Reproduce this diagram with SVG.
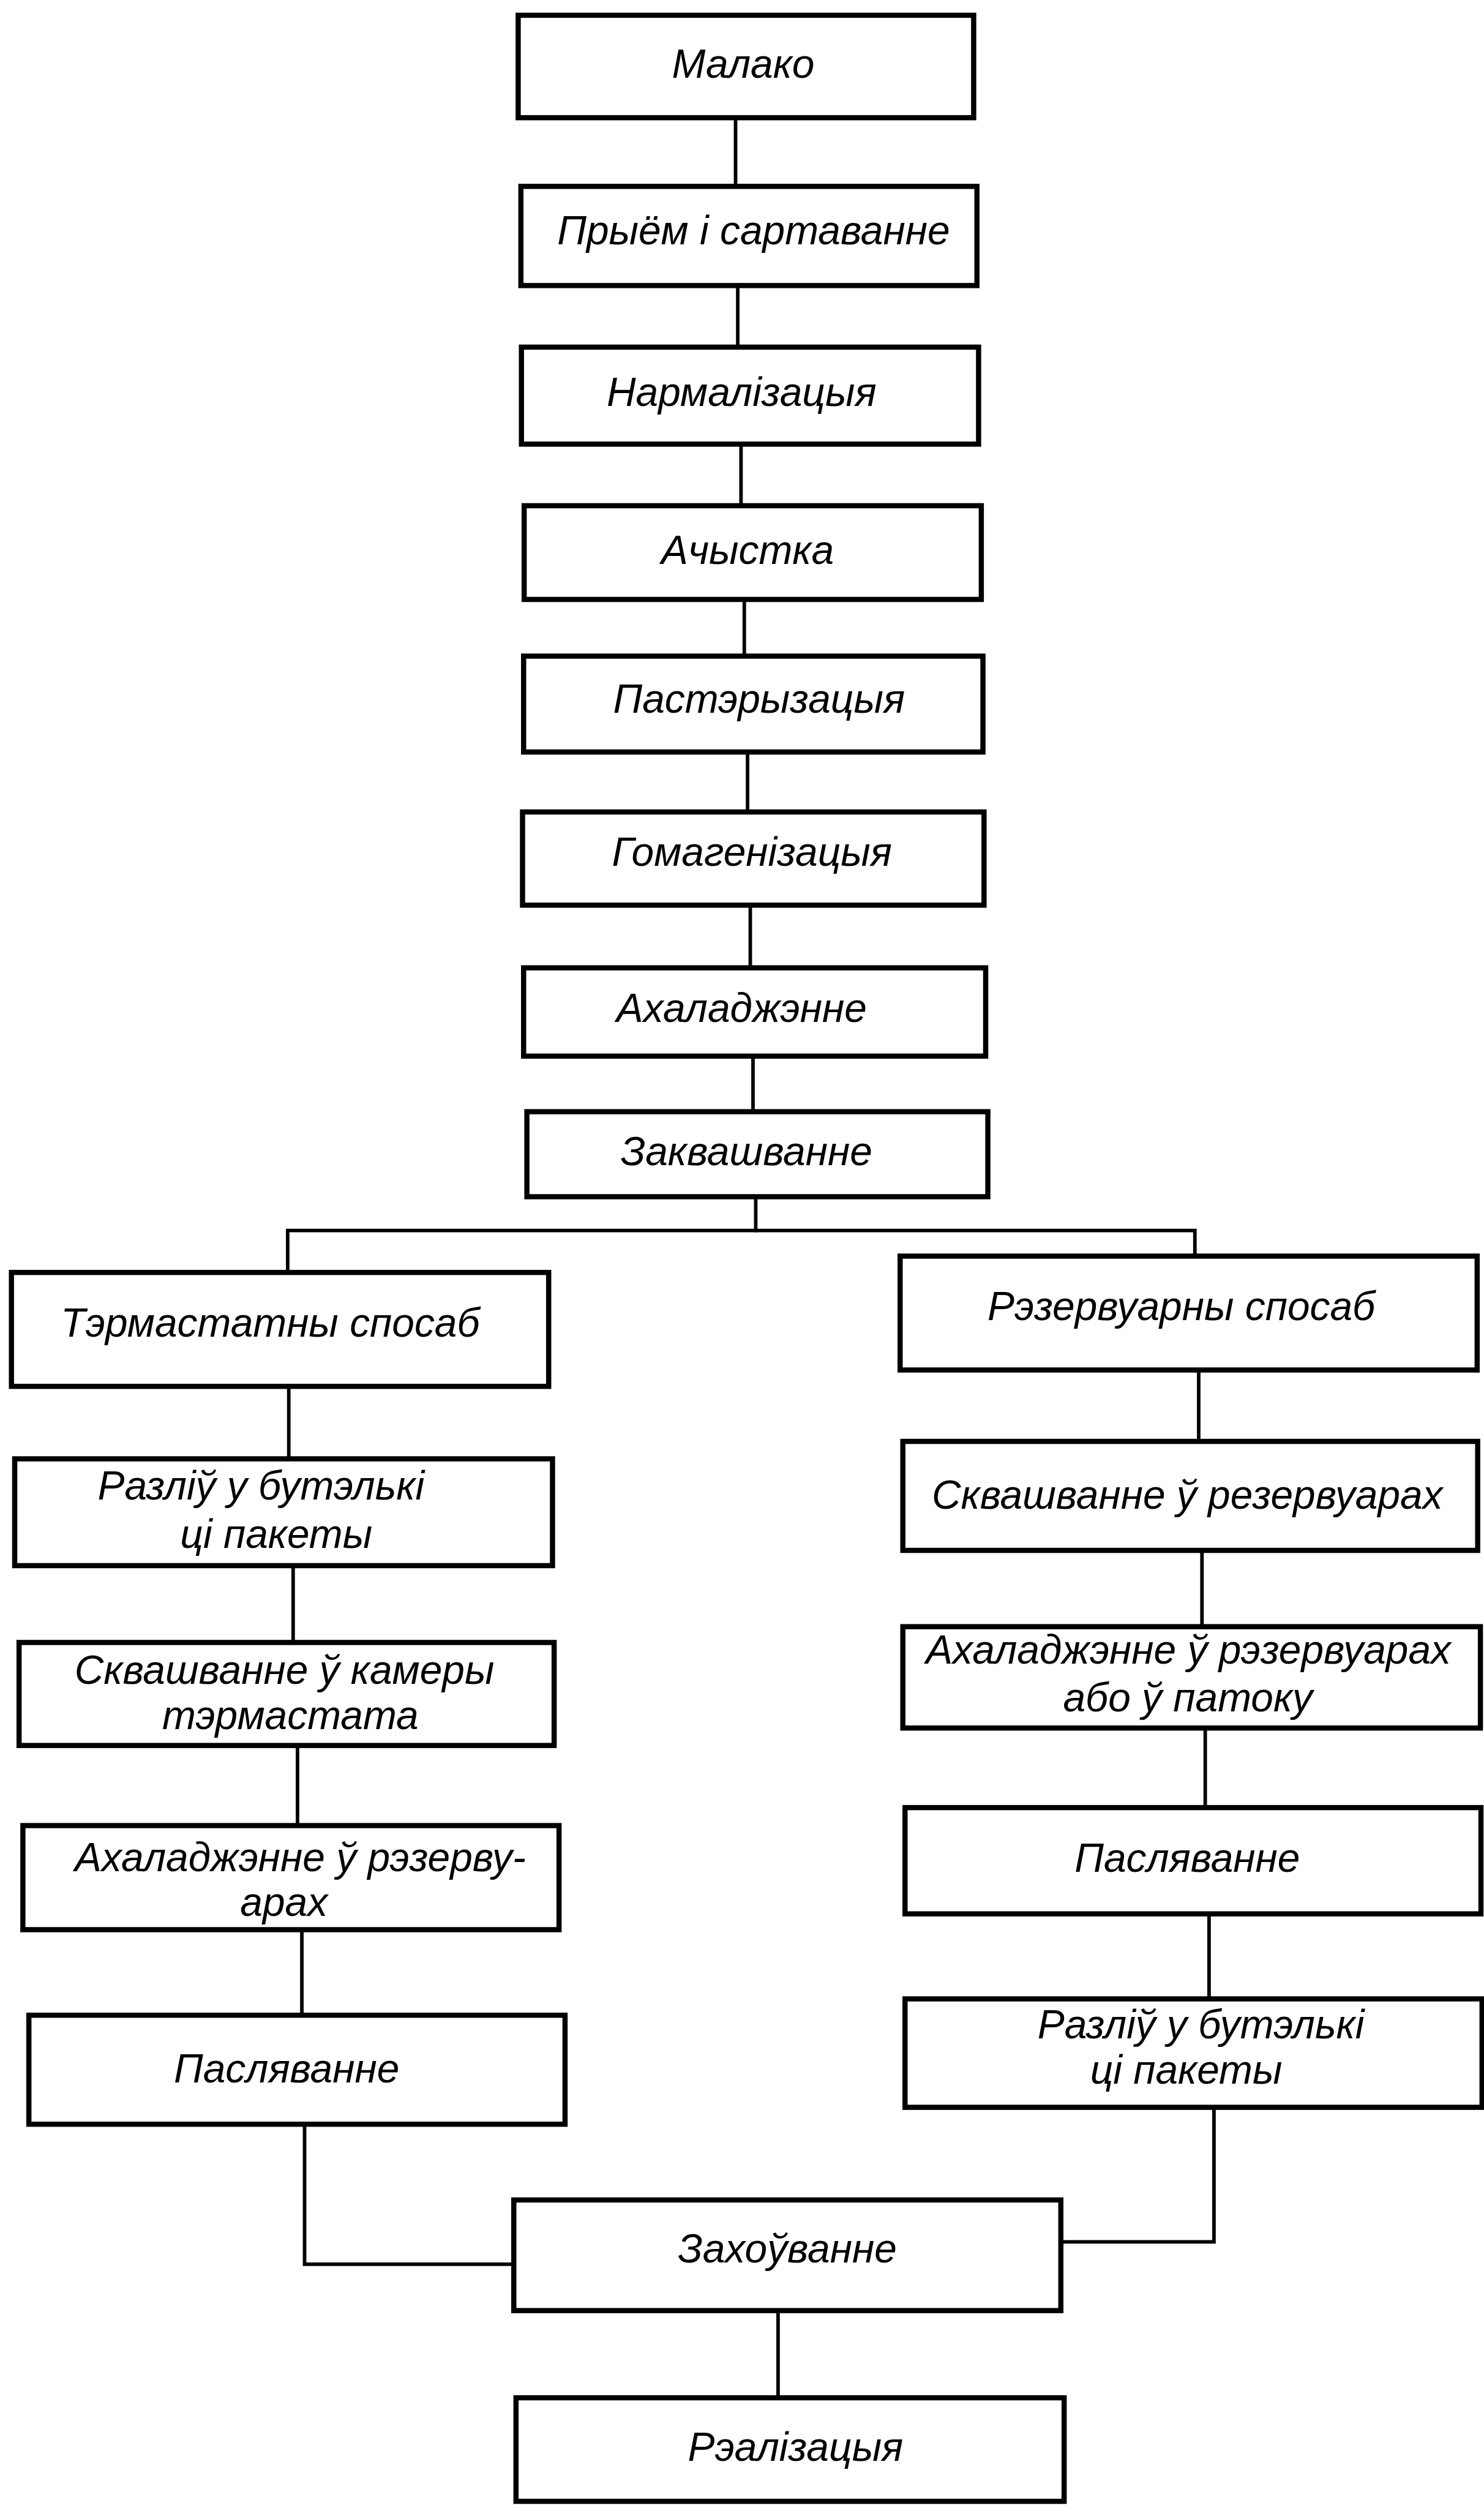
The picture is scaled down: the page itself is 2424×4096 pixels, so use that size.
<svg xmlns="http://www.w3.org/2000/svg" width="2424" height="4096" viewBox="0 0 2424 4096">
<style>
.box{fill:#fff;stroke:#000;stroke-width:9.5}
.lbl{font-family:"Liberation Sans",Arial,sans-serif;font-style:italic;font-size:74px;fill:#000;text-anchor:middle}
.conn{fill:none;stroke:#000;stroke-width:6.5;stroke-linejoin:miter;stroke-linecap:square}
</style>
<rect width="2424" height="4096" fill="#fff"/>
<g transform="scale(0.89)">
<g id="connectors">
<path class="conn" d="M1350 216 V342"/>
<path class="conn" d="M1354 524 V637"/>
<path class="conn" d="M1360 815 V928"/>
<path class="conn" d="M1366 1100 V1204"/>
<path class="conn" d="M1372 1380 V1490"/>
<path class="conn" d="M1377 1661 V1776"/>
<path class="conn" d="M1382 1938 V2040"/>
<path class="conn" d="M1387 2196 V2258"/>
<path class="conn" d="M528 2335 V2258 H2193 V2305"/>
<path class="conn" d="M530 2544 V2677"/>
<path class="conn" d="M538 2873 V3014"/>
<path class="conn" d="M546 3203 V3350"/>
<path class="conn" d="M554 3541 V3698"/>
<path class="conn" d="M559 3898 V4155 H943"/>
<path class="conn" d="M2200 2514 V2645"/>
<path class="conn" d="M2206 2845 V2985"/>
<path class="conn" d="M2212 3171 V3317"/>
<path class="conn" d="M2219 3512 V3668"/>
<path class="conn" d="M2228 3867 V4114 H1947"/>
<path class="conn" d="M1428 4240 V4400"/>
</g>
<g id="n-malako"><rect class="box" x="951" y="28" width="836" height="188"/><text class="lbl" x="1364" y="143">Малако</text></g>
<g id="n-pryjom"><rect class="box" x="956" y="342" width="837" height="182"/><text class="lbl" x="1383" y="448">Прыём і сартаванне</text></g>
<g id="n-narmalizacyja"><rect class="box" x="957" y="637" width="839" height="178"/><text class="lbl" x="1361" y="745">Нармалізацыя</text></g>
<g id="n-achystka"><rect class="box" x="962" y="928" width="839" height="172"/><text class="lbl" x="1372" y="1035">Ачыстка</text></g>
<g id="n-pasteryzacyja"><rect class="box" x="961" y="1204" width="843" height="176"/><text class="lbl" x="1393" y="1308">Пастэрызацыя</text></g>
<g id="n-gomagenizacyja"><rect class="box" x="959" y="1490" width="847" height="171"/><text class="lbl" x="1380" y="1589">Гомагенізацыя</text></g>
<g id="n-ahaladzhenne"><rect class="box" x="961" y="1776" width="848" height="162"/><text class="lbl" x="1361" y="1875">Ахаладжэнне</text></g>
<g id="n-zakvashvanne"><rect class="box" x="967" y="2040" width="846" height="156"/><text class="lbl" x="1370" y="2138">Заквашванне</text></g>
<g id="n-termastatny"><rect class="box" x="21" y="2335" width="986" height="209"/><text class="lbl" x="496" y="2453">Тэрмастатны спосаб</text></g>
<g id="n-razliu-l"><rect class="box" x="27" y="2677" width="987" height="196"/><text class="lbl" x="479" y="2752">Разліў у бутэлькі</text><text class="lbl" x="507" y="2840">ці пакеты</text></g>
<g id="n-skvash-kamery"><rect class="box" x="35" y="3014" width="982" height="189"/><text class="lbl" x="522" y="3090">Сквашванне ў камеры</text><text class="lbl" x="533" y="3173">тэрмастата</text></g>
<g id="n-ahal-l"><rect class="box" x="42" y="3350" width="984" height="191"/><text class="lbl" x="551" y="3434">Ахаладжэнне ў рэзерву-</text><text class="lbl" x="521" y="3516">арах</text></g>
<g id="n-paslyavanne-l"><rect class="box" x="53" y="3698" width="984" height="200"/><text class="lbl" x="526" y="3821">Пасляванне</text></g>
<g id="n-rezervuarny"><rect class="box" x="1652" y="2305" width="1059" height="209"/><text class="lbl" x="2168" y="2422">Рэзервуарны спосаб</text></g>
<g id="n-skvash-rez"><rect class="box" x="1657" y="2645" width="1055" height="200"/><text class="lbl" x="2179" y="2769">Сквашванне ў резервуарах</text></g>
<g id="n-ahal-r"><rect class="box" x="1657" y="2985" width="1060" height="186"/><text class="lbl" x="2181" y="3053">Ахаладжэнне ў рэзервуарах</text><text class="lbl" x="2180" y="3140">або ў патоку</text></g>
<g id="n-paslyavanne-r"><rect class="box" x="1661" y="3317" width="1057" height="195"/><text class="lbl" x="2179" y="3435">Пасляванне</text></g>
<g id="n-razliu-r"><rect class="box" x="1661" y="3668" width="1059" height="199"/><text class="lbl" x="2204" y="3741">Разліў у бутэлькі</text><text class="lbl" x="2177" y="3824">ці пакеты</text></g>
<g id="n-zahouvanne"><rect class="box" x="943" y="4037" width="1004" height="203"/><text class="lbl" x="1445" y="4152">Захоўванне</text></g>
<g id="n-realizacyja"><rect class="box" x="947" y="4400" width="1006" height="190"/><text class="lbl" x="1460" y="4516">Рэалізацыя</text></g>
</g>
</svg>
